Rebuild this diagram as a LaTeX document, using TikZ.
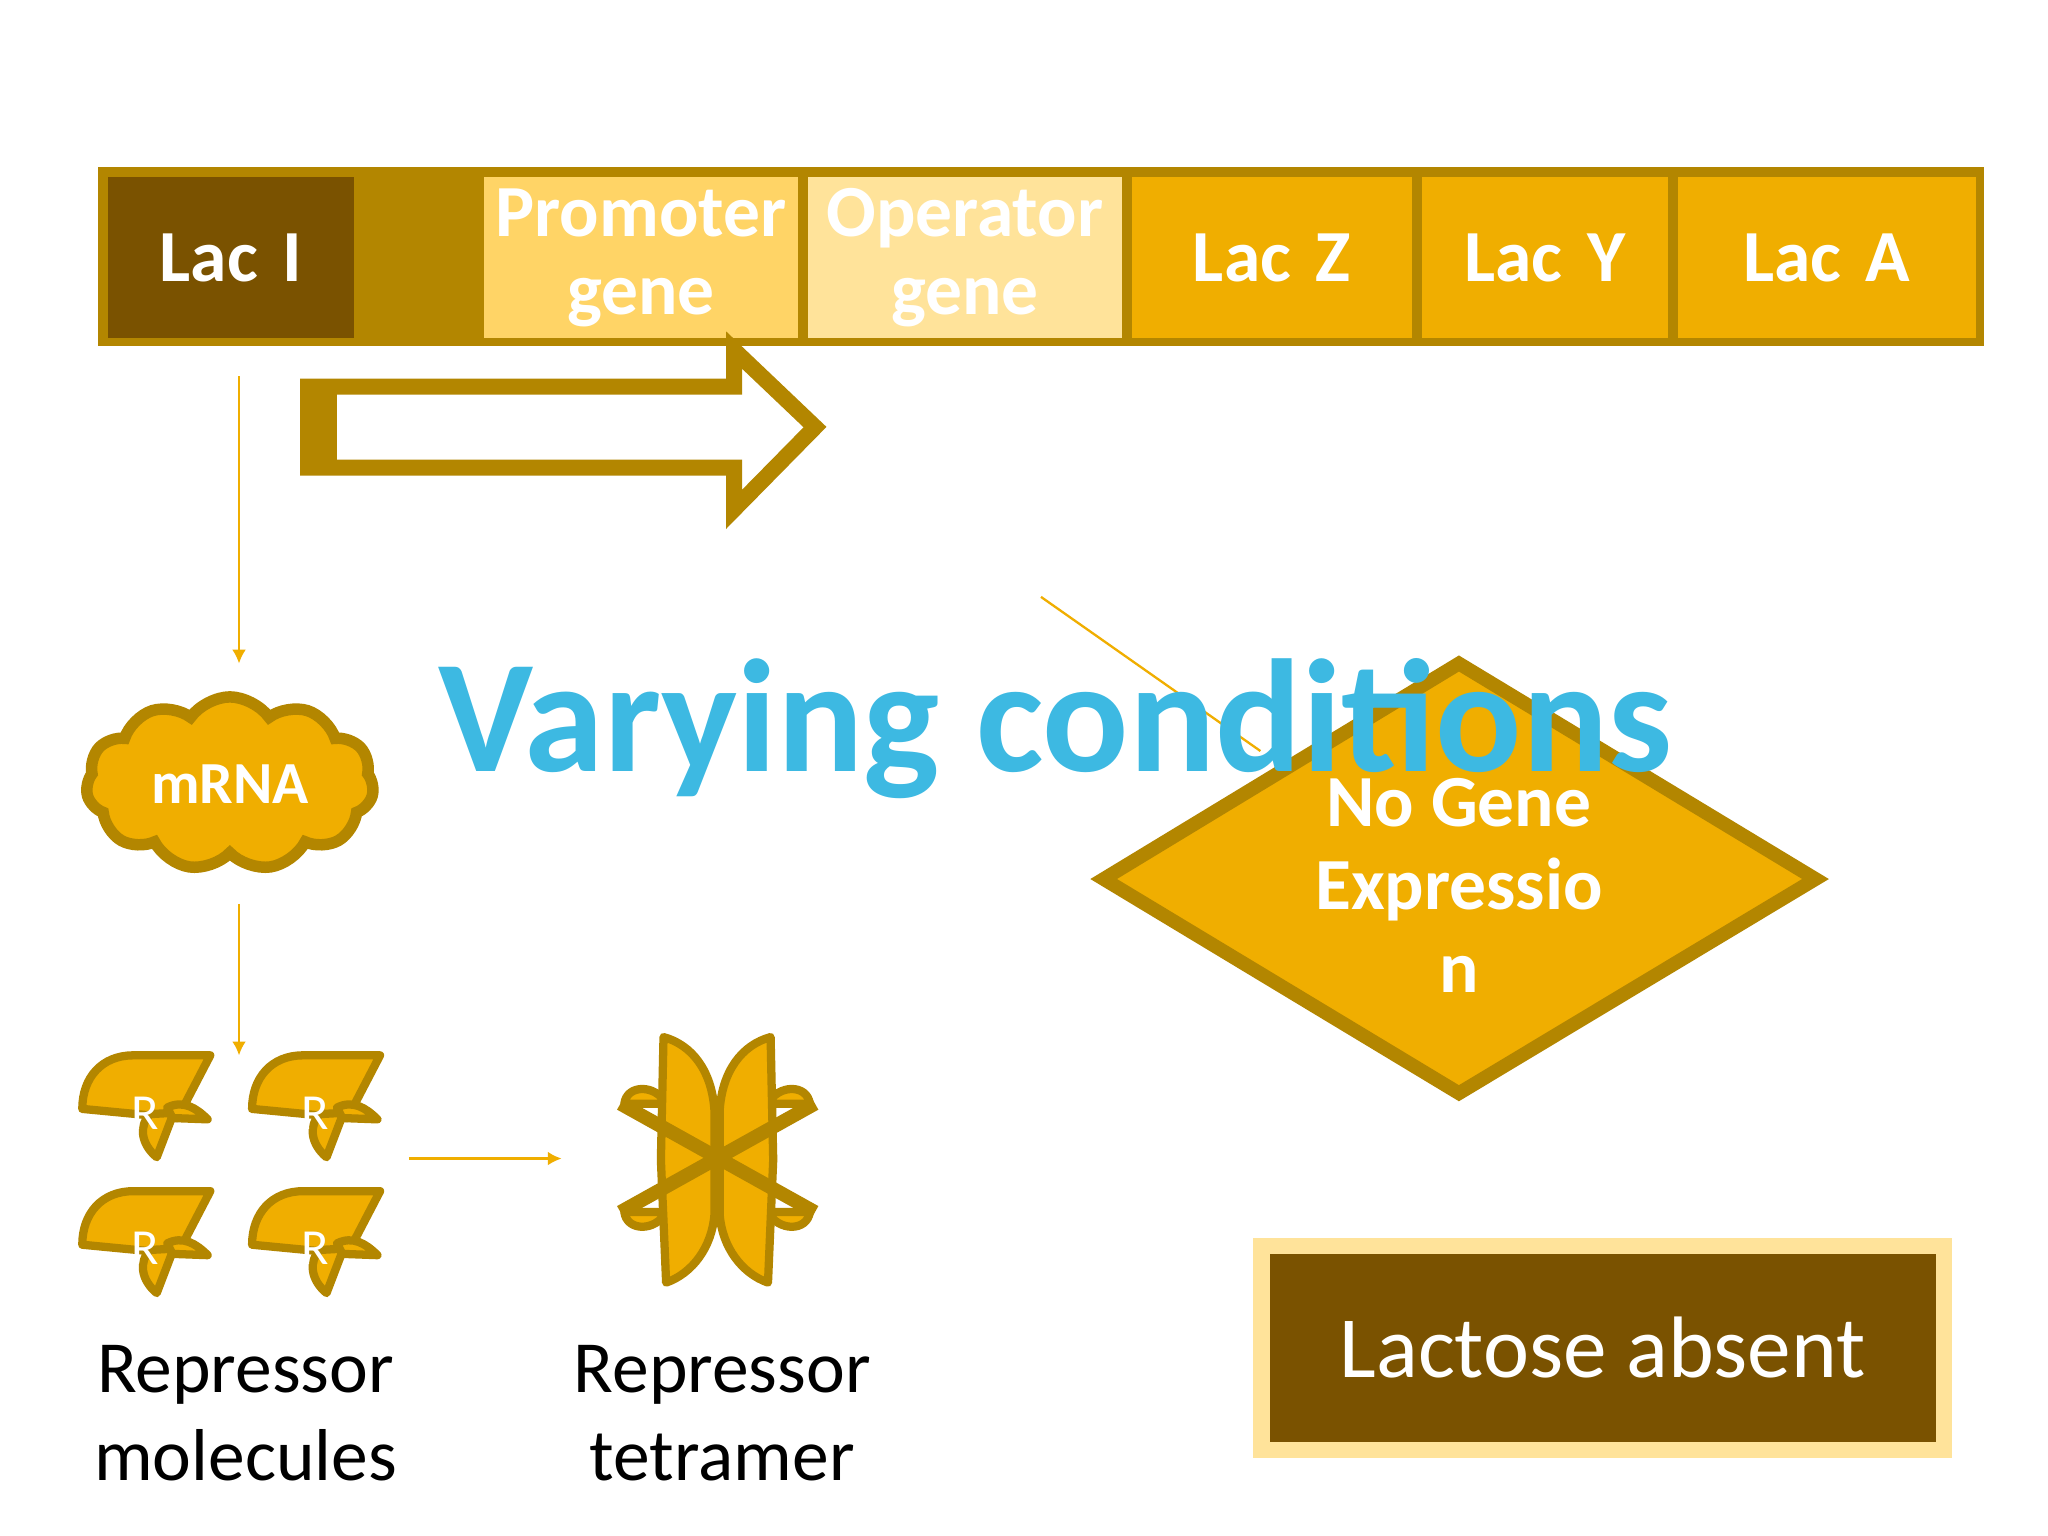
\documentclass[tikz,border=0pt]{standalone}
\usepackage{fontspec}
\setmainfont{Carlito}
\usetikzlibrary{shapes.symbols,shapes.geometric,arrows.meta}
\definecolor{gold}{HTML}{F0AE00}
\definecolor{dgold}{HTML}{B38600}
\definecolor{brown}{HTML}{7A5200}
\definecolor{prom}{HTML}{FFD466}
\definecolor{oper}{HTML}{FFE39A}
\definecolor{cyanT}{HTML}{3DB9E2}
\tikzset{
 gene/.style={draw=none,anchor=north west,text=white,font=\fontsize{16}{18}\selectfont\bfseries,align=center,inner sep=0pt,minimum height=1.23cm},
 thin/.style={draw=gold,line width=0.5pt,-{Latex[length=3pt,width=3pt]}},
 part/.style={fill=gold,draw=dgold,line width=1.8pt,line join=round},
 lbl/.style={font=\fontsize{16}{19}\selectfont,align=center},
}
\begin{document}
\begin{tikzpicture}[x=0.01cm,y=-0.01cm]
\useasboundingbox (0,0) rectangle (1568,1176);
\fill[white] (0,0) rectangle (1568,1176);
% bar
\fill[dgold] (75,128) rectangle (1519,265);
\node[gene,fill=brown,text width=1.88cm] (laci) at (82,135) {Lac I};
\node[gene,fill=prom,text width=2.40cm] (prom) at (370,135) {Promoter\\[-1pt]gene};
\node[gene,fill=oper,text width=2.40cm] (oper) at (618,135) {Operator\\[-1pt]gene};
\node[gene,fill=gold,text width=2.14cm] (lacz) at (866,135) {Lac Z};
\node[gene,fill=gold,text width=1.88cm] (lacy) at (1088,135) {Lac Y};
\node[gene,fill=gold,text width=2.28cm] (laca) at (1284,135) {Lac A};
% hollow arrow
\draw[dgold,fill=white,line width=3.5pt,line join=miter] (236,296) -- (562,296) -- (562,268) -- (624,327) -- (562,390) -- (562,358) -- (236,358) -- cycle;
\fill[dgold] (232,292) rectangle (258,361);
% cloud
\node[cloud,cloud puffs=11,cloud puff arc=110,aspect=1.9,fill=gold,draw=dgold,line width=2.5pt,minimum width=2.2cm,minimum height=1.25cm,text=white,font=\fontsize{13}{15}\selectfont\bfseries] (mrna) at (176,600) {mRNA};
\coordinate (a1) at (183,288); \coordinate (a2) at (183,508);
\draw[thin] (a1) -- (a2);
\coordinate (b1) at (183,692); \coordinate (b2) at (183,808);
\draw[thin] (b1) -- (b2);
\coordinate (c1) at (313,887); \coordinate (c2) at (430,887);
\draw[thin] (c1) -- (c2);
\coordinate (d1) at (797,457); \coordinate (d2) at (965,575);
\draw[gold,line width=0.5pt] (d1) -- (d2);
% diamond
\draw[fill=gold,draw=dgold,line width=3pt,line join=miter] (1117,508) -- (1390,673) -- (1117,837) -- (845,673) -- cycle;
\node[text=white,font=\fontsize{16}{18}\selectfont\bfseries,align=center] (dia) at (1117,678) {No Gene\\Expressio\\n};
% title
\node[text=cyanT,font=\fontsize{35}{38}\selectfont\bfseries] (title) at (808,558) {Varying conditions};
% repressors
\foreach \dx/\dy [count=\i] in {0/0,130/0,0/104,130/104}{
 \begin{scope}[shift={(\dx,\dy)}]
 \draw[part] (63,849) .. controls (63,825) and (78,808) .. (102,808) -- (161,808) -- (136,856) -- cycle;
 \draw[part] (133,852) -- (120,886) .. controls (108,876) and (106,862) .. (115,853) -- cycle;
 \draw[part] (128,848) .. controls (140,842) and (150,848) .. (159,857) -- (132,856) -- cycle;
 \node[text=white,font=\fontsize{11}{12}\selectfont,inner sep=0pt] (r\i) at (111,852) {R};
 \end{scope}}
% tetramer
\begin{scope}
\draw[part] (478,845) .. controls (480,830) and (502,830) .. (510,845) -- cycle;
\draw[part] (620,845) .. controls (618,830) and (596,830) .. (588,845) -- cycle;
\draw[part] (478,928) .. controls (480,943) and (502,943) .. (510,928) -- cycle;
\draw[part] (620,928) .. controls (618,943) and (596,943) .. (588,928) -- cycle;
\draw[part] (508,794) .. controls (530,800) and (545,820) .. (547,850) -- (547,930) .. controls (545,955) and (530,975) .. (510,982) -- (506,888) -- cycle;
\draw[part] (590,794) .. controls (568,800) and (553,820) .. (551,850) -- (551,930) .. controls (553,955) and (568,975) .. (588,982) -- (592,888) -- cycle;
\draw[dgold,line width=3pt] (475,845) -- (624,928);
\draw[dgold,line width=3pt] (475,928) -- (624,845);
\end{scope}
\node[lbl] (lm) at (188,1082) {Repressor\\molecules};
\node[lbl] (lt) at (553,1082) {Repressor\\tetramer};
% lactose box
\node[draw=oper,fill=brown,line width=3.5pt,minimum width=5.22cm,minimum height=1.56cm,text=white,font=\fontsize{19}{21}\selectfont] (lac) at (1227,1032) {Lactose absent};
\end{tikzpicture}
\end{document}
